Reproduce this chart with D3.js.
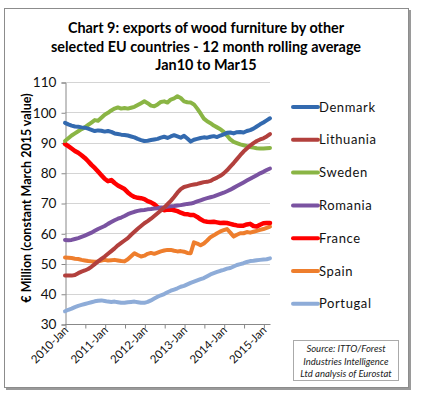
<!DOCTYPE html>
<html>
<head>
<meta charset="utf-8">
<script src="https://cdnjs.cloudflare.com/ajax/libs/d3/7.8.5/d3.min.js"></script>
<style>
  body { margin: 0; background: #fff; }
  text { font-family: Lato, "Open Sans", sans-serif; }
</style>
</head>
<body>
<div id="chart"></div>
<script>
// chart data (monthly, Jan 2010 .. Mar 2015)
var years = [2010, 2011, 2012, 2013, 2014, 2015];
var monthNames = ["Jan","Feb","Mar","Apr","May","Jun","Jul","Aug","Sep","Oct","Nov","Dec"];
var tickLabels = ["2010-Jan","2011-Jan","2012-Jan","2013-Jan","2014-Jan","2015-Jan"];
var countries = ["Denmark","Lithuania","Sweden","Romania","France","Spain","Portugal"];
var colors = ["#336AAF","#B2403D","#8AB545","#7A53A1","#FF0000","#EE7E2D","#8EACD8"];

var denmark = [96.5,96.0,95.6,95.3,95.2,95.0,94.9,94.6,94.2,93.8,94.0,93.9,93.6,93.8,93.5,93.0,92.8,92.6,92.5,92.3,92.0,91.7,91.2,90.8,90.5,90.6,90.8,91.0,91.2,91.6,91.9,91.5,92.0,92.4,92.0,91.6,92.2,91.3,90.3,90.9,91.2,91.5,91.7,91.6,91.9,92.1,91.8,92.3,92.7,93.2,93.3,93.0,93.4,93.5,93.3,93.8,94.1,94.6,95.3,96.0,96.6,97.3,98.0];
var lithuania = [46.0,46.0,46.0,46.2,46.8,47.3,47.7,48.2,48.9,49.8,50.7,51.5,52.3,53.2,54.1,55.0,56.0,56.8,57.6,58.4,59.5,60.5,61.5,62.4,63.3,64.0,64.8,65.7,66.6,67.5,68.5,69.6,70.7,72.0,73.4,74.6,75.3,75.6,75.9,76.1,76.3,76.6,76.9,77.0,77.3,77.9,78.4,79.0,79.8,80.8,82.0,83.2,84.5,85.8,87.0,88.0,89.0,89.8,90.5,91.0,91.4,92.0,92.8];
var sweden = [90.5,91.4,92.3,93.0,93.7,94.4,95.0,95.8,96.6,97.4,97.2,98.2,99.2,99.8,100.6,101.2,101.6,101.2,101.4,101.2,101.5,101.8,102.4,103.0,103.6,103.0,102.2,102.0,102.6,103.4,103.6,103.2,104.2,104.6,105.3,104.7,103.6,103.3,103.2,102.6,101.2,99.6,97.9,97.0,96.4,95.6,95.0,94.4,93.5,92.3,91.0,90.2,89.8,89.4,89.1,88.8,88.5,88.3,88.1,88.0,88.0,88.1,88.2];
var romania = [57.8,57.7,57.8,58.1,58.4,58.8,59.2,59.7,60.2,60.8,61.4,61.9,62.4,63.1,63.7,64.3,64.8,65.2,65.7,66.3,66.7,67.1,67.4,67.6,67.7,67.9,68.0,68.2,68.3,68.5,68.6,68.8,68.9,69.0,69.2,69.3,69.5,69.7,69.8,70.1,70.5,70.9,71.3,71.6,71.9,72.2,72.6,73.0,73.4,73.9,74.4,75.0,75.6,76.2,76.8,77.4,78.0,78.6,79.2,79.8,80.3,80.9,81.4];
var france = [89.5,88.8,88.0,87.2,86.6,85.8,84.9,83.8,82.6,81.6,80.4,79.2,78.0,77.2,77.6,76.6,75.8,75.2,74.6,73.5,72.6,72.0,71.7,71.6,71.3,70.6,70.2,69.6,68.6,68.0,67.6,67.8,67.8,67.6,67.3,66.8,66.4,66.3,66.0,66.0,65.4,64.6,64.0,63.8,63.7,63.8,63.6,63.4,63.5,63.4,63.1,62.8,62.6,62.5,62.5,62.9,63.1,62.4,62.2,62.8,63.3,63.4,63.4];
var spain = [52.0,51.9,51.8,51.6,51.5,51.2,51.0,50.8,50.7,50.6,50.7,51.0,51.2,51.0,51.1,51.2,51.0,50.8,50.7,51.4,52.4,53.4,52.8,52.3,52.6,53.2,53.5,53.2,53.6,54.0,54.3,54.5,54.5,54.2,54.0,54.1,53.9,53.5,53.4,57.0,56.6,56.0,56.6,57.6,58.7,59.3,60.0,60.6,61.0,61.4,60.2,58.9,59.5,60.0,60.0,60.4,60.2,60.5,60.8,61.1,61.4,61.8,62.2];
var portugal = [34.2,34.7,35.1,35.6,36.0,36.3,36.6,36.9,37.2,37.5,37.7,37.8,37.6,37.4,37.3,37.4,37.2,37.0,37.0,37.2,37.3,37.4,37.2,37.0,37.0,37.3,37.8,38.4,39.0,39.5,39.9,40.5,41.0,41.4,41.8,42.3,42.6,43.1,43.6,44.0,44.4,44.8,45.2,45.8,46.4,46.8,47.2,47.6,47.9,48.3,48.5,49.0,49.5,49.8,50.1,50.5,50.8,50.9,51.1,51.2,51.3,51.4,51.7];
var yTicks = [30, 40, 50, 60, 70, 80, 90, 100, 110];
var titleLines = ["Chart 9: exports of wood furniture by other",
                  "selected EU countries - 12 month rolling average",
                  "Jan10 to Mar15"];
var sourceLines = ["Source: ITTO/Forest", "Industries Intelligence", "Ltd analysis of Eurostat"];

// month categories
var months = [];
years.forEach(function(y){
    monthNames.forEach(function(m){
        if (months.length < denmark.length) months.push(y + "-" + m);
    });
});
var seriesValues = [denmark, lithuania, sweden, romania, france, spain, portugal];
var series = countries.map(function(c, k){
    return {name: c, color: colors[k], values: seriesValues[k]};
});

var width = 434, height = 397;
var svg = d3.select("#chart").append("svg")
    .attr("width", width)
    .attr("height", height);

// frame with a small shadow on right / bottom
svg.append("rect").attr("x", 6).attr("y", 10).attr("width", 405).attr("height", 380).attr("fill", "#9a9a9a");
svg.append("rect").attr("x", 4.5).attr("y", 8.5).attr("width", 404).attr("height", 379)
    .attr("fill", "#fff").attr("stroke", "#8c8c8c").attr("stroke-width", 1);

// title
svg.append("g").selectAll("text")
    .data(titleLines)
    .join("text")
    .attr("x", 206)
    .attr("y", function(d, i){ return 33 + i * 18.5; })
    .attr("text-anchor", "middle")
    .style("font-size", "14.4px")
    .style("font-weight", "bold")
    .attr("fill", "#000")
    .text(function(d){ return d; });

var x = d3.scalePoint().domain(months).range([65, 270]);
var y = d3.scaleLinear().domain([30, 110]).range([324, 82]);

// gridlines
svg.append("g").selectAll("line")
    .data(yTicks.slice(1))
    .join("line")
    .attr("x1", 65).attr("x2", 270)
    .attr("y1", function(d){ return Math.round(y(d)) + 0.5; })
    .attr("y2", function(d){ return Math.round(y(d)) + 0.5; })
    .attr("stroke", "#d4d4d4");

// y axis
var yAxis = d3.axisLeft(y).tickValues(yTicks).tickSize(4).tickPadding(5);
var gy = svg.append("g").attr("transform", "translate(65.5,0.5)").call(yAxis);
gy.select(".domain").attr("stroke", "#888");
gy.selectAll(".tick line").attr("stroke", "#888");
gy.selectAll(".tick text").style("font-size", "13.6px").style("font-family", "Lato, sans-serif").attr("fill", "#111");

// x axis: ticks every 6 months, labels every 12
var xTickVals = months.filter(function(m, i){ return i % 6 === 0; });
var xAxis = d3.axisBottom(x).tickValues(xTickVals).tickSize(4).tickFormat("");
var gx = svg.append("g").attr("transform", "translate(0.5," + (324.5) + ")").call(xAxis);
gx.select(".domain").attr("stroke", "#888").attr("d", "M64.5,0H270");
gx.selectAll(".tick line").attr("stroke", "#888");

svg.append("g").selectAll("text")
    .data(tickLabels)
    .join("text")
    .attr("transform", function(d){ return "translate(" + (x(d) + 4) + ",331) rotate(-45)"; })
    .attr("text-anchor", "end")
    .style("font-size", "11.5px")
    .attr("fill", "#111")
    .text(function(d){ return d; });

// y axis title
svg.append("text")
    .attr("transform", "translate(31,198) rotate(-90)")
    .attr("text-anchor", "middle")
    .style("font-size", "12.5px")
    .style("font-weight", "bold")
    .text("\u20AC Million (constant March 2015 value)");

// lines
var line = d3.line()
    .x(function(d, i){ return x(months[i]); })
    .y(function(d){ return y(d); });

svg.append("g").selectAll("path")
    .data(series.slice().reverse())
    .join("path")
    .attr("d", function(d){ return line(d.values); })
    .attr("fill", "none")
    .attr("stroke", function(d){ return d.color; })
    .attr("stroke-width", function(d){ return d.name === "France" ? 4.5 : 4; })
    .attr("stroke-linejoin", "round")
    .attr("stroke-linecap", "round");

// legend
var lg = svg.append("g").selectAll("g")
    .data(series)
    .join("g")
    .attr("transform", function(d, i){ return "translate(293," + (107 + i * 32.8) + ")"; });
lg.append("line")
    .attr("x1", 0).attr("x2", 25)
    .attr("stroke", function(d){ return d.color; })
    .attr("stroke-width", 4)
    .attr("stroke-linecap", "round");
lg.append("text")
    .attr("x", 26)
    .attr("dy", "0.35em")
    .style("font-size", "13px")
    .style("letter-spacing", "0.6px")
    .attr("fill", "#111")
    .text(function(d){ return d.name; });

// source box
svg.append("rect")
    .attr("x", 293.5).attr("y", 340.5).attr("width", 105).attr("height", 40)
    .attr("fill", "#fff").attr("stroke", "#aaa");
svg.append("g").selectAll("text")
    .data(sourceLines)
    .join("text")
    .attr("x", 346)
    .attr("y", function(d, i){ return 352 + i * 12.5; })
    .attr("text-anchor", "middle")
    .style("font-size", "9.5px")
    .style("font-style", "italic")
    .attr("fill", "#222")
    .text(function(d){ return d; });
</script>
</body>
</html>
